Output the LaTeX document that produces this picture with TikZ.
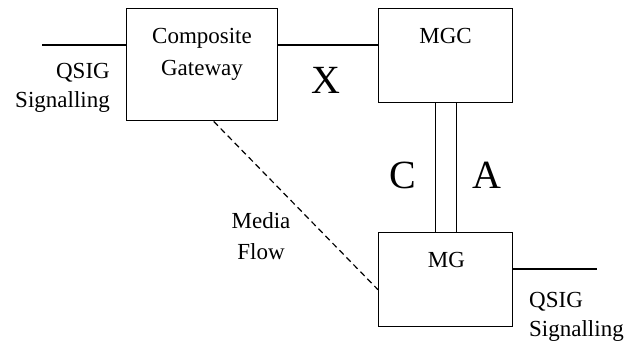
\documentclass[tikz,border=0pt]{standalone}
\usepackage{fontspec}
\setmainfont{Liberation Serif}
\begin{document}
\begin{tikzpicture}[x=1pt,y=-1pt,
  box/.style={draw,line width=1.4pt,inner sep=0pt,anchor=north west},
  wire/.style={line width=1.4pt},
  txt/.style={inner sep=0pt,anchor=base,font=\fontsize{23}{32}\selectfont},
  big/.style={inner sep=0pt,anchor=base,font=\fontsize{40}{44}\selectfont}]
\useasboundingbox (0,0) rectangle (637,340);
% boxes
\node[box,minimum width=151pt,minimum height=112pt] (cg) at (126,8) {};
\node[box,minimum width=134pt,minimum height=94pt] (mgc) at (378,8) {};
\node[box,minimum width=134pt,minimum height=94pt] (mg) at (378,232) {};
% free ends
\coordinate (lq) at (42,45);
\coordinate (rq) at (597,269);
% connectors
\draw[wire] (lq) -- (lq -| cg.west);
\draw[wire] (lq -| cg.east) -- (lq -| mgc.west);
\draw[wire] (rq -| mg.east) -- (rq);
\draw[wire] ([xshift=-10.5pt]mgc.south) -- ([xshift=-10.5pt]mg.north);
\draw[wire] ([xshift=10.5pt]mgc.south) -- ([xshift=10.5pt]mg.north);
\draw[line width=1.2pt,dash pattern=on 6pt off 4pt] ([xshift=11.5pt]cg.south) -- ([yshift=-10pt]mg.west);
% texts
\node[txt,align=center] (cgt) at (202,75) {Composite\\Gateway};
\node[txt] (mgct) at (445.5,43) {MGC};
\node[txt] (mgt) at (446.5,267) {MG};
\node[txt,align=right,anchor=base east,font=\fontsize{23}{29}\selectfont] (lqt) at (110,107) {QSIG\\Signalling};
\node[txt,align=left,anchor=base west,font=\fontsize{23}{29}\selectfont] (rqt) at (529,336) {QSIG\\Signalling};
\node[txt,align=center,font=\fontsize{23}{31}\selectfont] (mf) at (261,259) {Media\\Flow};
\node[big] (x) at (326,93) {X};
\node[big] (c) at (403,188) {C};
\node[big] (a) at (487,188) {A};
\end{tikzpicture}
\end{document}
